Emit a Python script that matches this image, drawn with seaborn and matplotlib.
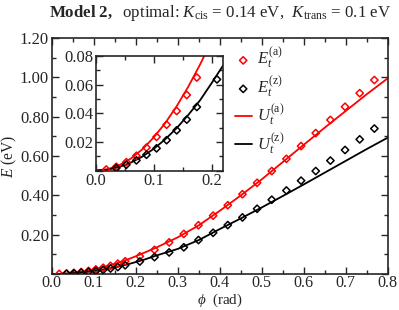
import numpy as np
import pandas as pd
import matplotlib
matplotlib.use("Agg")
import matplotlib.pyplot as plt
import seaborn as sns
from matplotlib import font_manager
from matplotlib.ticker import MultipleLocator, FuncFormatter

# ===============================
# Data
# ===============================
# angles of the computed points, in degrees
deg_a = [1, 2, 3, 4, 5, 6, 7, 8, 9, 10, 12, 14, 16, 18, 20, 22, 24, 26, 28, 30,
         32, 34, 36, 38, 40, 42, 44]
E_a = [0.0007, 0.0026, 0.0058, 0.0103, 0.0160, 0.0235, 0.0320, 0.0416, 0.0528, 0.065,
       0.090, 0.123, 0.161, 0.204, 0.248, 0.297, 0.350, 0.406, 0.464, 0.524,
       0.586, 0.651, 0.717, 0.784, 0.851, 0.920, 0.987]

deg_z = [2, 3, 4, 5, 6, 7, 8, 9, 10, 12, 14, 16, 18, 20, 22, 24, 26, 28, 30,
         32, 34, 36, 38, 40, 42, 44]
E_z = [0.0017, 0.0040, 0.0071, 0.0110, 0.0155, 0.0212, 0.0281, 0.0356, 0.0444,
       0.0637, 0.086, 0.110, 0.136, 0.173, 0.210, 0.249, 0.288, 0.332, 0.378,
       0.425, 0.475, 0.524, 0.577, 0.631, 0.685, 0.740]

# model curves
phi_line = [0.0, 0.02, 0.04, 0.06, 0.08, 0.10, 0.12, 0.14, 0.16, 0.18, 0.20, 0.22,
            0.25, 0.30, 0.35, 0.40, 0.45, 0.50, 0.55, 0.60, 0.65, 0.70, 0.75, 0.80]
U_a = [0.0, 0.0009, 0.0037, 0.0083, 0.0148, 0.0232, 0.0333, 0.0452, 0.0588, 0.0740,
       0.0905, 0.1085, 0.136, 0.187, 0.248, 0.322, 0.400, 0.482, 0.570, 0.658,
       0.745, 0.830, 0.915, 0.996]
U_z = [0.0, 0.0006, 0.0024, 0.0055, 0.0097, 0.0152, 0.0219, 0.0298, 0.0390, 0.0490,
       0.0610, 0.0734, 0.095, 0.128, 0.173, 0.229, 0.283, 0.339, 0.397, 0.456,
       0.516, 0.576, 0.636, 0.694]

pts_a = pd.DataFrame({"phi": np.deg2rad(deg_a), "E": E_a})
pts_z = pd.DataFrame({"phi": np.deg2rad(deg_z), "E": E_z})
lines = pd.DataFrame({"phi": phi_line, "Ua": U_a, "Uz": U_z})

# ===============================
# Style
# ===============================
# make sure the Times-like serif is registered
for f in font_manager.findSystemFonts():
    if "LiberationSerif" in f.replace(" ", ""):
        font_manager.fontManager.addfont(f)

sns.set_style("ticks")
plt.rcParams["font.family"] = ["Liberation Serif", "DejaVu Serif"]
plt.rcParams["mathtext.fontset"] = "custom"
plt.rcParams["mathtext.rm"] = "Liberation Serif"
plt.rcParams["mathtext.it"] = "Liberation Serif:italic"
plt.rcParams["mathtext.bf"] = "Liberation Serif:bold"
FS = 12
LFS = 11.2


def draw(ax, legend):
    sns.scatterplot(data=pts_a, x="phi", y="E", ax=ax, marker="D", s=14,
                    facecolor="none", edgecolor="red", linewidth=1.1,
                    label=r"$E_t^{\rm (a)}$" if legend else None, zorder=3)
    sns.scatterplot(data=pts_z, x="phi", y="E", ax=ax, marker="D", s=14,
                    facecolor="none", edgecolor="black", linewidth=1.1,
                    label=r"$E_t^{\rm (z)}$" if legend else None, zorder=3)
    sns.lineplot(data=lines, x="phi", y="Ua", ax=ax, color="red", lw=1.3,
                 label=r"$U_t^{\rm (a)}$" if legend else None)
    sns.lineplot(data=lines, x="phi", y="Uz", ax=ax, color="black", lw=1.3,
                 label=r"$U_t^{\rm (z)}$" if legend else None)
    ax.tick_params(which="both", direction="in", top=True, right=True,
                   width=1, labelsize=FS, pad=2)
    ax.tick_params(which="major", length=5)
    ax.tick_params(which="minor", length=3)
    for s in ax.spines.values():
        s.set_linewidth(1.2)


fig = plt.figure(figsize=(3.99, 3.10), dpi=100)
ax = fig.add_axes([0.130, 0.116, 0.842, 0.761])
draw(ax, True)
ax.tick_params(axis="x", labelsize=11.6, pad=1)
ax.set_xlim(0, 0.8)
ax.set_ylim(0, 1.2)
ax.xaxis.set_major_locator(MultipleLocator(0.1))
ax.xaxis.set_minor_locator(MultipleLocator(0.05))
ax.yaxis.set_major_locator(MultipleLocator(0.2))
ax.yaxis.set_minor_locator(MultipleLocator(0.1))
ax.xaxis.set_major_formatter(FuncFormatter(lambda v, p: f"{v:.1f}"))
ax.yaxis.set_major_formatter(FuncFormatter(lambda v, p: "" if abs(v) < 1e-9 else f"{v:.2f}"))
ax.set_xlabel(r"$\phi$  (rad)", fontsize=10.8)
ax.set_ylabel(r"$E$ (eV)", fontsize=LFS)
ax.xaxis.set_label_coords(0.5, -0.147, transform=ax.transAxes)
ax.yaxis.set_label_coords(-0.126, 0.5, transform=ax.transAxes)
ax.xaxis.label.set_va("bottom")
ax.yaxis.label.set_va("center")
ax.set_title(r"$\bf{Model\ 2,}$  optimal: $K_{\rm cis}$ = 0.14 eV,  $K_{\rm trans}$ = 0.1 eV",
             fontsize=12.2, pad=15)
leg = ax.legend(loc="upper left", bbox_to_anchor=(0.50, 1.03), frameon=False,
                fontsize=FS, handlelength=1.0, labelspacing=0.2, handletextpad=0.35)

# inset
axi = fig.add_axes([0.241, 0.450, 0.318, 0.369])
draw(axi, False)
axi.set_xlim(0, 0.22)
axi.set_ylim(0, 0.08)
axi.xaxis.set_major_locator(MultipleLocator(0.1))
axi.xaxis.set_minor_locator(MultipleLocator(0.05))
axi.yaxis.set_major_locator(MultipleLocator(0.02))
axi.yaxis.set_minor_locator(MultipleLocator(0.01))
axi.xaxis.set_major_formatter(FuncFormatter(lambda v, p: f"{v:.1f}"))
axi.yaxis.set_major_formatter(FuncFormatter(lambda v, p: "" if abs(v) < 1e-9 else f"{v:.2f}"))
axi.set_xlabel("")
axi.set_ylabel("")

fig.savefig("out.png", dpi=100)
